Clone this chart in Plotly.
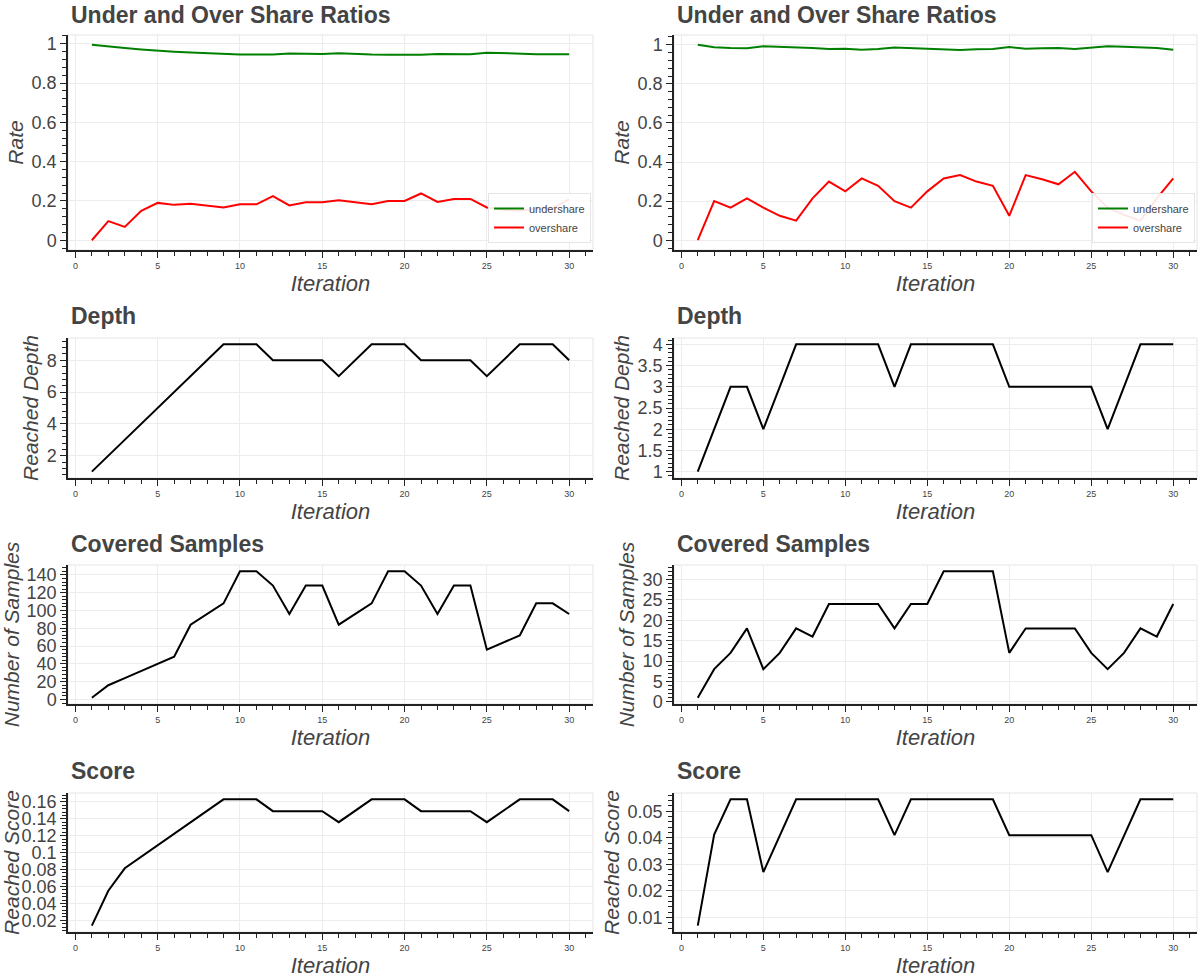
import plotly.graph_objects as go

iterations = list(range(1, 31))

# Left column (run A)
under_a = [0.995, 0.985, 0.978, 0.971, 0.964, 0.960, 0.956, 0.952, 0.948, 0.946,
           0.946, 0.946, 0.950, 0.948, 0.948, 0.952, 0.948, 0.945, 0.944, 0.944,
           0.944, 0.948, 0.947, 0.947, 0.955, 0.952, 0.949, 0.947, 0.947, 0.947]
over_a = [0.0, 0.097, 0.068, 0.150, 0.190, 0.180, 0.186, 0.176, 0.167, 0.183,
          0.183, 0.225, 0.177, 0.193, 0.193, 0.203, 0.193, 0.183, 0.200, 0.200,
          0.238, 0.195, 0.210, 0.210, 0.167, 0.155, 0.150, 0.160, 0.165, 0.208]
depth_a = [1, 2, 3, 4, 5, 6, 7, 8, 9, 9, 9, 8, 8, 8, 8, 7, 8, 9, 9, 9,
           8, 8, 8, 8, 7, 8, 9, 9, 9, 8]
samples_a = [2, 16, 24, 32, 40, 48, 84, 96, 108, 144, 144, 128, 96, 128, 128, 84,
             96, 108, 144, 144, 128, 96, 128, 128, 56, 64, 72, 108, 108, 96]
score_a = [0.0137, 0.055, 0.0815, 0.095, 0.109, 0.122, 0.136, 0.149, 0.163, 0.163,
           0.163, 0.149, 0.149, 0.149, 0.149, 0.136, 0.149, 0.163, 0.163, 0.163,
           0.149, 0.149, 0.149, 0.149, 0.136, 0.149, 0.163, 0.163, 0.163, 0.149]

# Right column (run B)
under_b = [1.0, 0.987, 0.983, 0.982, 0.992, 0.990, 0.987, 0.983, 0.978, 0.980,
           0.975, 0.978, 0.986, 0.983, 0.980, 0.975, 0.973, 0.977, 0.978, 0.988,
           0.980, 0.982, 0.983, 0.978, 0.985, 0.992, 0.990, 0.986, 0.983, 0.975]
over_b = [0.0, 0.200, 0.167, 0.214, 0.167, 0.125, 0.100, 0.214, 0.300, 0.250,
          0.316, 0.278, 0.200, 0.167, 0.250, 0.316, 0.333, 0.300, 0.278, 0.125,
          0.333, 0.312, 0.286, 0.350, 0.250, 0.167, 0.130, 0.100, 0.214, 0.316]
depth_b = [1, 2, 3, 3, 2, 3, 4, 4, 4, 4, 4, 4, 3, 4, 4, 4, 4, 4, 4, 3,
           3, 3, 3, 3, 3, 2, 3, 4, 4, 4]
samples_b = [1, 8, 12, 18, 8, 12, 18, 16, 24, 24, 24, 24, 18, 24, 24, 32,
             32, 32, 32, 12, 18, 18, 18, 18, 12, 8, 12, 18, 16, 24]
score_b = [0.0069, 0.0412, 0.0545, 0.0545, 0.0271, 0.0410, 0.0545, 0.0545, 0.0545, 0.0545,
           0.0545, 0.0545, 0.0410, 0.0545, 0.0545, 0.0545, 0.0545, 0.0545, 0.0545, 0.0410,
           0.0410, 0.0410, 0.0410, 0.0410, 0.0410, 0.0271, 0.0410, 0.0545, 0.0545, 0.0545]

titles = ["Under and Over Share Ratios", "Depth", "Covered Samples", "Score"]
ylabels = ["Rate", "Reached Depth", "Number of Samples", "Reached Score"]
xlabel = "Iteration"

W, H = 1200, 978
FONT = "Liberation Sans, Arial, Helvetica, sans-serif"
TXT = "#444444"

# pixel geometry of plot frames
col_px = [(68, 593), (674, 1197)]
row_px = [(35, 250), (338, 478), (565, 704), (793, 932)]
title_px = [15, 316, 544, 771]

# major / minor tick steps per panel (row, col)
ysteps = {
    (0, 0): (0.2, 0.04), (0, 1): (0.2, 0.04),
    (1, 0): (2, 0.4), (1, 1): (0.5, 0.1),
    (2, 0): (20, 4), (2, 1): (5, 1),
    (3, 0): (0.02, 0.004), (3, 1): (0.01, 0.002),
}

fig = go.Figure()


def pad_range(vals, frac=0.1):
    lo, hi = min(vals), max(vals)
    p = (hi - lo) * frac / 2
    return [lo - p, hi + p]


xr = pad_range(iterations)

panels = {
    (0, 0): [("undershare", under_a, "green"), ("overshare", over_a, "red")],
    (0, 1): [("undershare", under_b, "green"), ("overshare", over_b, "red")],
    (1, 0): [("depth", depth_a, "black")],
    (1, 1): [("depth", depth_b, "black")],
    (2, 0): [("samples", samples_a, "black")],
    (2, 1): [("samples", samples_b, "black")],
    (3, 0): [("score", score_a, "black")],
    (3, 1): [("score", score_b, "black")],
}

layout = dict(
    width=W, height=H, margin=dict(l=0, r=0, t=0, b=0),
    paper_bgcolor="white", plot_bgcolor="white",
    font=dict(family=FONT, color=TXT),
    annotations=[], shapes=[],
)

idx = 0
for r in range(4):
    for c in range(2):
        idx += 1
        xa = "xaxis" if idx == 1 else f"xaxis{idx}"
        ya = "yaxis" if idx == 1 else f"yaxis{idx}"
        xref = "x" if idx == 1 else f"x{idx}"
        yref = "y" if idx == 1 else f"y{idx}"
        x0, x1 = col_px[c]
        t0, t1 = row_px[r]
        allvals = []
        for name, vals, color in panels[(r, c)]:
            allvals += vals
            leg = "legend"
            if r == 0 and c == 1:
                leg = "legend2"
            fig.add_trace(go.Scatter(
                x=iterations, y=vals, mode="lines", name=name,
                line=dict(color=color, width=2),
                xaxis=xref, yaxis=yref,
                showlegend=(r == 0),
                legend=leg,
            ))
        yr = pad_range(allvals)
        maj, mnr = ysteps[(r, c)]
        layout[xa] = dict(
            domain=[x0 / W, x1 / W], anchor=yref, range=xr,
            showgrid=True, gridcolor="#ececec", gridwidth=1, zeroline=False,
            showline=True, linecolor="#222", linewidth=1.5, mirror=False,
            ticks="outside", ticklen=6, tickcolor="#222", tickwidth=1,
            tick0=0, dtick=5,
            minor=dict(ticks="outside", ticklen=4, tickcolor="#222", dtick=1, tick0=0, showgrid=False),
            tickfont=dict(size=9, color=TXT, family=FONT),
            title=dict(text=xlabel, standoff=6,
                       font=dict(size=22, color=TXT, family=FONT, style="italic")),
            automargin=False, fixedrange=True,
        )
        layout[ya] = dict(
            domain=[1 - t1 / H, 1 - t0 / H], anchor=xref, range=yr,
            showgrid=True, gridcolor="#ececec", gridwidth=1, zeroline=False,
            showline=True, linecolor="#222", linewidth=1.5,
            ticks="outside", ticklen=6, tickcolor="#222", tickwidth=1,
            tick0=0, dtick=maj,
            minor=dict(ticks="outside", ticklen=4, tickcolor="#222", dtick=mnr, tick0=0, showgrid=False),
            tickfont=dict(size=18, color=TXT, family=FONT),
            title=dict(text=ylabels[r], standoff=2,
                       font=dict(size=21, color=TXT, family=FONT, style="italic")),
            automargin=False, fixedrange=True,
        )
        # light outline around the frame
        layout["shapes"].append(dict(
            type="rect", xref="paper", yref="paper",
            x0=x0 / W, x1=x1 / W, y0=1 - t1 / H, y1=1 - t0 / H,
            line=dict(color="#e5e5e5", width=1), layer="below",
        ))
        layout["annotations"].append(dict(
            text=f"<b>{titles[r]}</b>", xref="paper", yref="paper",
            x=(x0 + 1) / W, y=1 - title_px[r] / H, xanchor="left", yanchor="middle",
            showarrow=False, font=dict(size=23, color=TXT, family=FONT),
        ))

leg_common = dict(
    bgcolor="rgba(255,255,255,0.9)", bordercolor="#e5e5e5", borderwidth=1,
    font=dict(size=11, color=TXT, family=FONT), itemwidth=30,
    xanchor="right", yanchor="bottom", tracegroupgap=0,
)
layout["legend"] = dict(x=591 / W, y=1 - 243 / H, **leg_common)
layout["legend2"] = dict(x=1195 / W, y=1 - 243 / H, **leg_common)

fig.update_layout(**layout)
fig.write_html(
    "out.html",
    config={"displayModeBar": False},
    post_script="document.body.style.margin='0';document.body.style.overflow='hidden';",
)
